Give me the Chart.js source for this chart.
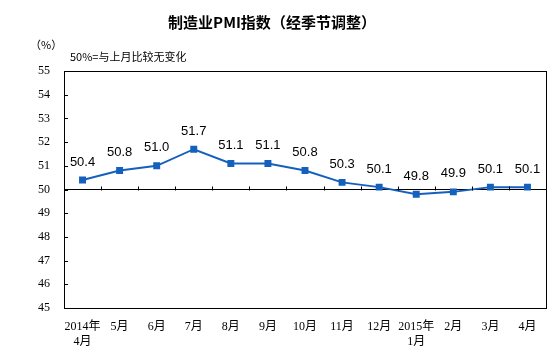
<!DOCTYPE html>
<html>
<head>
<meta charset="utf-8">
<script src="https://cdn.jsdelivr.net/npm/chart.js@4/dist/chart.umd.min.js"></script>
<style>
  body { margin: 0; background: #fff; }
  #wrap { position: relative; width: 553px; height: 364px; }
</style>
</head>
<body>
<div id="wrap"><canvas id="myChart" width="553" height="364"></canvas></div>
<script>
'use strict'
// chart data
var months = [['2014年', '4月'], '5月', '6月', '7月', '8月', '9月', '10月', '11月', '12月', ['2015年', '1月'], '2月', '3月', '4月'];
var pmiValues = [50.4, 50.8, 51.0, 51.7, 51.1, 51.1, 50.8, 50.3, 50.1, 49.8, 49.9, 50.1, 50.1];
var yMin = 45;
var yMax = 55;
var baseLine = 50;

var titleText = '制造业PMI指数（经季节调整）';
var unitText = '（%）';
var noteText = '50%=与上月比较无变化';

var lineColor = '#1560bd';
var serifFont = "'Liberation Serif', 'Noto Sans CJK SC', serif";

// extra drawing: box, inner ticks, value labels, titles
var extras = {
    id: 'extras',
    afterDraw: function (chart) {
        var ctx = chart.ctx;
        var area = chart.chartArea;
        var yScale = chart.scales.y;
        var xScale = chart.scales.x;
        ctx.save();
        ctx.strokeStyle = '#000';
        ctx.lineWidth = 1;
        ctx.strokeRect(Math.round(area.left) + 0.5, Math.round(area.top) + 0.5,
            Math.round(area.right - area.left), Math.round(area.bottom - area.top));

        // y ticks pointing inside
        ctx.beginPath();
        for (var v = yMin; v <= yMax; v++) {
            var py = Math.round(yScale.getPixelForValue(v)) + 0.5;
            ctx.moveTo(area.left, py);
            ctx.lineTo(area.left + 4, py);
        }
        // x ticks on the 50 line, between categories
        var by = Math.round(yScale.getPixelForValue(baseLine)) + 0.5;
        var step = (area.right - area.left) / months.length;
        for (var i = 1; i < months.length; i++) {
            var px = Math.round(area.left + step * i) + 0.5;
            ctx.moveTo(px, by);
            ctx.lineTo(px, by - 4);
        }
        ctx.stroke();

        // value labels
        var meta = chart.getDatasetMeta(0);
        ctx.fillStyle = '#000';
        ctx.font = "13px 'Liberation Sans', Arial, sans-serif";
        ctx.textAlign = 'center';
        ctx.textBaseline = 'middle';
        meta.data.forEach(function (pt, k) {
            ctx.fillText(pmiValues[k].toFixed(1), pt.x, pt.y - 18);
        });

        // titles
        ctx.font = "bold 15px 'Noto Sans CJK SC', sans-serif";
        ctx.fillText(titleText, 272, 22);
        ctx.font = "11px 'Noto Sans CJK SC', sans-serif";
        ctx.textAlign = 'left';
        ctx.fillText(unitText, 30, 45);
        ctx.fillText(noteText, 70, 57);
        ctx.restore();
    }
};

var ctx = document.getElementById('myChart').getContext('2d');
var chart = new Chart(ctx, {
    type: 'line',
    data: {
        labels: months,
        datasets: [{
            data: pmiValues,
            borderColor: lineColor,
            backgroundColor: lineColor,
            borderWidth: 2,
            pointStyle: 'rect',
            pointRadius: 3.5,
            pointHoverRadius: 3.5,
            tension: 0
        }]
    },
    options: {
        responsive: false,
        animation: false,
        layout: { padding: { top: 71, right: 7, left: 0, bottom: 0 } },
        plugins: {
            legend: { display: false },
            title: { display: false },
            tooltip: { enabled: false }
        },
        scales: {
            x: {
                offset: true,
                grid: { display: false, drawTicks: false },
                border: { display: false },
                ticks: {
                    color: '#000',
                    padding: 12,
                    maxRotation: 0,
                    autoSkip: false,
                    font: { family: serifFont, size: 12 }
                },
                afterFit: function (scale) { scale.height = 56; }
            },
            y: {
                min: yMin,
                max: yMax,
                grid: {
                    drawTicks: false,
                    color: function (c) { return c.tick && c.tick.value === baseLine ? '#000' : 'rgba(0,0,0,0)'; }
                },
                border: { display: false },
                ticks: {
                    stepSize: 1,
                    color: '#000',
                    padding: 14,
                    font: { family: serifFont, size: 12 }
                },
                afterFit: function (scale) { scale.width = 64; }
            }
        }
    },
    plugins: [extras]
});
</script>
</body>
</html>
